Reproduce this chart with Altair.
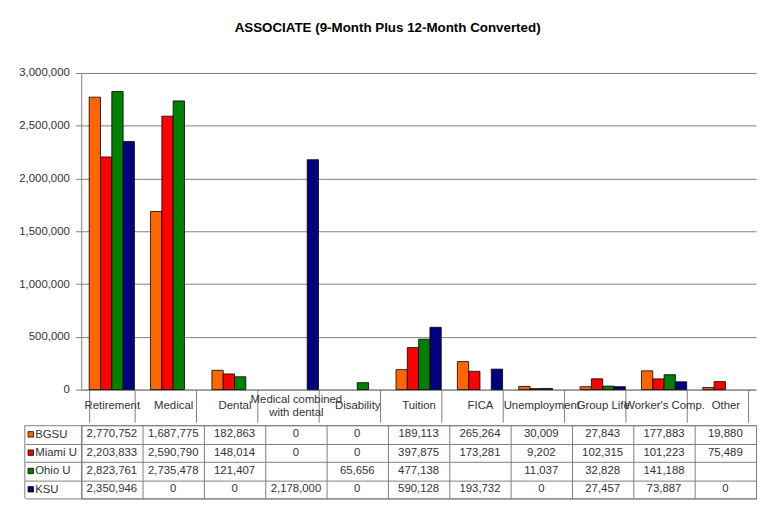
import altair as alt
import pandas as pd

categories = ["Retirement", "Medical", "Dental", "Medical combined with dental", "Disability",
              "Tuition", "FICA", "Unemployment", "Group Life", "Worker's Comp.", "Other"]
series = ["BGSU", "Miami U", "Ohio U", "KSU"]
colors = ["#FF6600", "#FF0000", "#008000", "#000080"]

bgsu = [2770752, 1687775, 182863, 0, 0, 189113, 265264, 30009, 27843, 177883, 19880]
miami = [2203833, 2590790, 148014, 0, 0, 397875, 173281, 9202, 102315, 101223, 75489]
ohio = [2823761, 2735478, 121407, None, 65656, 477138, None, 11037, 32828, 141188, None]
ksu = [2350946, 0, 0, 2178000, 0, 590128, 193732, 0, 27457, 73887, 0]

y_ticks = [0, 500000, 1000000, 1500000, 2000000, 2500000, 3000000]

rows = []
for s, vals in zip(series, [bgsu, miami, ohio, ksu]):
    for c, v in zip(categories, vals):
        rows.append({"category": c, "series": s, "value": v,
                     "label": "" if v is None else f"{v:,}"})
df = pd.DataFrame(rows)
keys_df = pd.DataFrame({"series": series})

FONT = "Liberation Sans"
W = 682
GRID = "#808080"
TXT = "#333333"
FS = 11.5
MULTI = "datum.value == 'Medical combined with dental'"

color_scale = alt.Scale(domain=series, range=colors)

bars = alt.Chart(df).transform_filter("datum.value > 0").mark_bar(
    stroke="black", strokeWidth=0.8).encode(
    x=alt.X("category:N", sort=categories,
            scale=alt.Scale(paddingInner=0.263, paddingOuter=0.13),
            axis=alt.Axis(title=None, tickBand="extent", tickSize=33, tickColor=GRID,
                          domainColor=GRID, labelAngle=0, labelBaseline="middle",
                          labelPadding={"condition": {"test": MULTI, "value": -22.8}, "value": -16.5},
                          labelFontSize=FS, labelColor=TXT,
                          labelLimit=0, labelOverlap=False, labelLineHeight=12.6,
                          labelExpr=MULTI + " ? ['Medical combined', 'with dental'] : datum.label")),
    xOffset=alt.XOffset("series:N", sort=series),
    y=alt.Y("value:Q", scale=alt.Scale(domain=[0, 3000000]),
            axis=alt.Axis(title=None, values=y_ticks, format=",.0f", grid=True, gridColor=GRID,
                          tickSize=6, labelPadding=6, tickColor=GRID, domainColor=GRID,
                          labelFontSize=FS, labelColor=TXT)),
    color=alt.Color("series:N", scale=color_scale, legend=None),
).properties(width=W, height=320, view=alt.ViewBackground(stroke=None))

x_tab = alt.X("category:N", sort=categories,
              scale=alt.Scale(paddingInner=0, paddingOuter=0),
              axis=alt.Axis(title=None, labels=False, ticks=False, domain=False, grid=True,
                            tickBand="extent", gridColor=GRID))
y_tab = alt.Y("series:N", sort=series,
              scale=alt.Scale(paddingInner=0, paddingOuter=0),
              axis=alt.Axis(title=None, tickBand="extent", tickSize=57, tickColor=GRID,
                            domainColor=GRID, grid=True, gridColor=GRID,
                            labelAlign="left", labelPadding=-10, labelFontSize=FS,
                            labelColor=TXT))

cells = alt.Chart(df).mark_text(font=FONT, fontSize=FS, color=TXT).encode(
    x=x_tab, y=y_tab, text="label:N")

keys = alt.Chart(keys_df).mark_point(shape="square", filled=True, size=30, stroke="black",
                                     strokeWidth=0.8, opacity=1).encode(
    x=alt.value(-51), y=y_tab,
    color=alt.Color("series:N", scale=color_scale, legend=None))

border = alt.Chart(keys_df.head(1)).mark_rule(color=GRID).encode(
    x=alt.value(-57), y=alt.value(0), y2=alt.value(74))

table = alt.layer(cells, keys, border).properties(
    width=W, height=74, view=alt.ViewBackground(stroke=GRID))

chart = alt.vconcat(bars, table, spacing=-5).properties(
    title=alt.Title("ASSOCIATE (9-Month Plus 12-Month Converted)", anchor="middle",
                    fontSize=13.5, fontWeight="bold", font=FONT, color="black", offset=33),
    padding={"left": 10, "top": 10, "right": 0, "bottom": 5},
).configure_axis(labelFont=FONT).configure_text(font=FONT)

chart.save("out.html", embed_options={"renderer": "svg", "actions": False})
